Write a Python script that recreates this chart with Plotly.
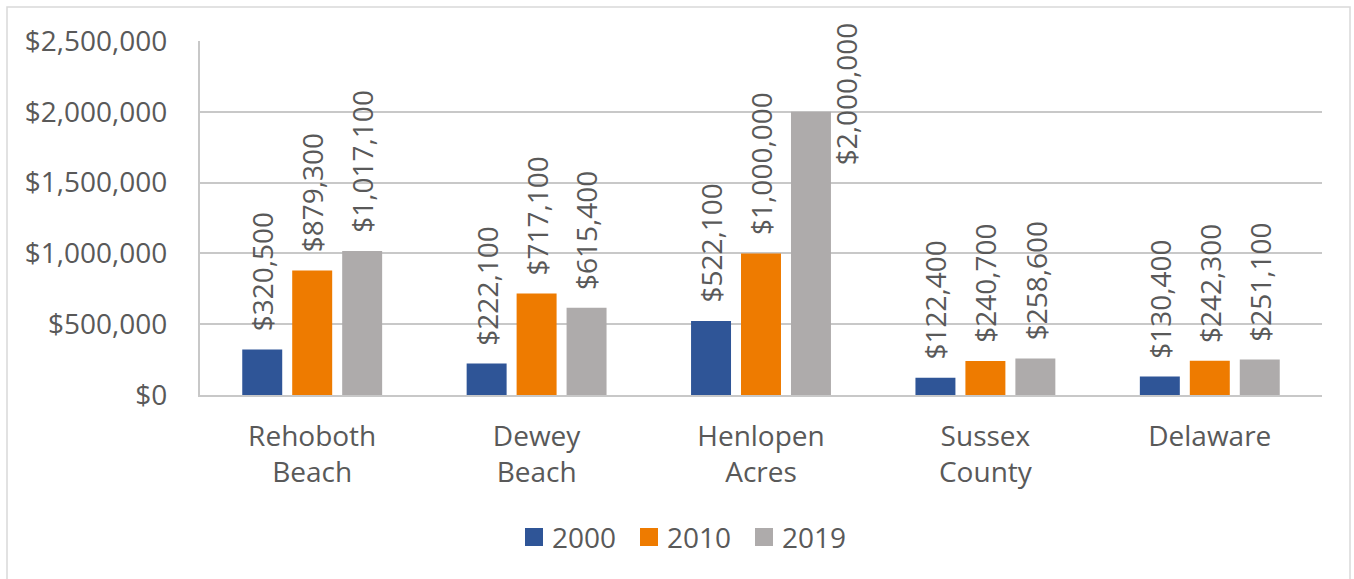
import plotly.graph_objects as go

categories = ["Rehoboth<br>Beach", "Dewey<br>Beach", "Henlopen<br>Acres", "Sussex<br>County", "Delaware"]
years = ["2000", "2010", "2019"]
values_2000 = [320500, 222100, 522100, 122400, 130400]
values_2010 = [879300, 717100, 1000000, 240700, 242300]
values_2019 = [1017100, 615400, 2000000, 258600, 251100]
y_ticks = [0, 500000, 1000000, 1500000, 2000000, 2500000]

series = [values_2000, values_2010, values_2019]
colors = ["#2F5597", "#EE7B00", "#AEABAB"]
text_color = "#595959"
font_family = "Open Sans, Liberation Sans, sans-serif"
fs = 28

W, H = 1354, 579
ML, MR, MT, MB = 200, 32, 41, 184
pw, ph = W - ML - MR, H - MT - MB


def px_x(px):
    return (px - ML) / pw


def px_y(py):
    return (MT + ph - py) / ph


fig = go.Figure()
for name, vals, col in zip(years, series, colors):
    fig.add_trace(go.Bar(
        name=name, x=categories, y=vals, marker_color=col,
        marker_line_width=0, cliponaxis=False, showlegend=False,
    ))

# rotated value labels above each bar
offsets = [-50, 0, 50]
annotations = []
for vals, dx in zip(series, offsets):
    for j, v in enumerate(vals):
        xs, ys = dx, 16
        if v > 1900000:
            # no headroom above the tallest bar: put its label beside it
            xs, ys = dx + 35, -56
        annotations.append(dict(
            x=categories[j], y=v, xref="x", yref="y",
            text=f"${v:,.0f}", showarrow=False, textangle=-90,
            xanchor="center", yanchor="bottom", xshift=xs, yshift=ys,
            font=dict(size=fs, color=text_color, family=font_family),
        ))

# legend: coloured squares with year labels, centred under the chart
shapes = []
legend_left = [525, 640, 755]
for name, col, lx in zip(years, colors, legend_left):
    shapes.append(dict(
        type="rect", xref="paper", yref="paper",
        x0=px_x(lx), x1=px_x(lx + 18), y0=px_y(546), y1=px_y(528),
        fillcolor=col, line=dict(width=0),
    ))
    annotations.append(dict(
        x=px_x(lx + 25), y=px_y(537), xref="paper", yref="paper",
        text=name, showarrow=False, xanchor="left", yanchor="middle",
        font=dict(size=fs, color=text_color, family=font_family),
    ))

# chart border
shapes.append(dict(
    type="rect", xref="paper", yref="paper",
    x0=px_x(7), x1=px_x(1350), y0=px_y(H + 2), y1=px_y(7),
    line=dict(color="#D9D9D9", width=1.5), layer="below",
))

fig.update_layout(
    width=W, height=H,
    margin=dict(l=ML, r=MR, t=MT, b=MB),
    paper_bgcolor="white", plot_bgcolor="white",
    barmode="group", bargap=0.332, bargroupgap=0.2,
    font=dict(family=font_family, color=text_color, size=fs),
    showlegend=False,
    annotations=annotations,
    shapes=shapes,
)
fig.update_yaxes(
    range=[0, 2500000], tickvals=y_ticks,
    ticktext=[f"${v:,.0f}" for v in y_ticks],
    showgrid=True, gridcolor="#C8C8C8", gridwidth=2,
    zeroline=False, showline=True, linecolor="#C8C8C8", linewidth=2,
    ticks="", ticklabelstandoff=25,
    tickfont=dict(size=fs, color=text_color),
)
fig.update_xaxes(
    showline=True, linecolor="#C8C8C8", linewidth=2, ticks="",
    ticklabelstandoff=15,
    tickfont=dict(size=fs, color=text_color),
)

fig.write_html("out.html")
